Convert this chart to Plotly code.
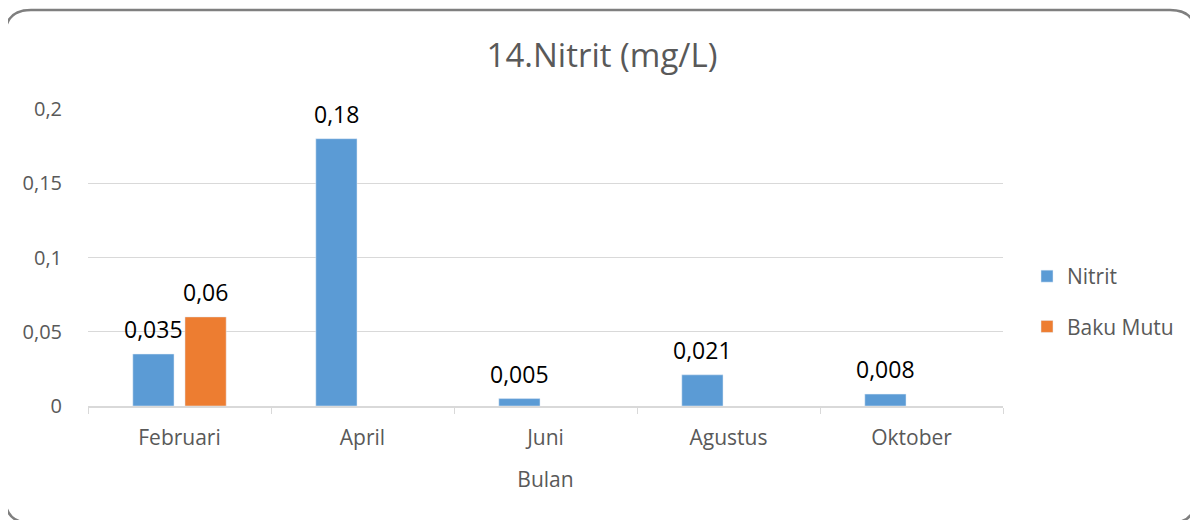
import plotly.graph_objects as go

categories = ["Februari", "April", "Juni", "Agustus", "Oktober"]
nitrit = [0.035, 0.18, 0.005, 0.021, 0.008]
baku_mutu = [0.06, None, None, None, None]
y_ticks = [0, 0.05, 0.1, 0.15, 0.2]
y_tick_labels = ["0", "0,05", "0,1", "0,15", "0,2"]

OFF = 8  # page body margin
W, H = 1198 - OFF, 520 - OFF
L, R, T, B = 88 - OFF, 195, 109 - OFF, 114
PW, PH = W - L - R, H - T - B

def px(x, y):
    # page pixel -> paper coords
    return (x - OFF - L) / PW, (H - B - (y - OFF)) / PH

FONT = "Open Sans"
GREY = "#595959"

fig = go.Figure()
fig.add_trace(go.Bar(x=categories, y=nitrit, name="Nitrit", marker_color="#5B9BD5",
                     legendgroup="a", hoverinfo="y"))
fig.add_trace(go.Bar(x=categories, y=baku_mutu, name="Baku Mutu", marker_color="#ED7D31",
                     legendgroup="b", hoverinfo="y"))

annotations = []
for series, shift in ((nitrit, -26), (baku_mutu, 26)):
    for c, v in zip(categories, series):
        if v is None:
            continue
        annotations.append(dict(x=c, y=v, xref="x", yref="y", xshift=shift, yshift=7,
                                text=f"{v:g}".replace(".", ","), showarrow=False,
                                yanchor="bottom", font=dict(family=FONT, size=23, color="#000000")))

# rounded border (bottom edge runs just below the visible page)
x0, y0 = px(5, 10)
x1, y1 = px(1196, 523)
rx, ry = 26 / PW, 26 / PH
path = (f"M{x0+rx},{y0} L{x1-rx},{y0} Q{x1},{y0} {x1},{y0-ry} "
        f"L{x1},{y1+ry} Q{x1},{y1} {x1-rx},{y1} L{x0+rx},{y1} Q{x0},{y1} {x0},{y1+ry} "
        f"L{x0},{y0-ry} Q{x0},{y0} {x0+rx},{y0} Z")

fig.update_layout(
    width=W, height=H,
    margin=dict(l=L, r=R, t=T, b=B),
    paper_bgcolor="white", plot_bgcolor="white",
    barmode="group", bargap=0.43, bargroupgap=0.21,
    separators=", ",
    title=dict(text="14.Nitrit (mg/L)", x=(602 - OFF) / W, xanchor="center",
               y=1 - (55 - OFF) / H, yanchor="middle",
               font=dict(family=FONT, size=33, color=GREY)),
    font=dict(family=FONT, color=GREY),
    showlegend=True,
    legend=dict(x=px(1027, 0)[0], y=px(0, 301.5)[1], xanchor="left", yanchor="middle",
                font=dict(family=FONT, size=21, color=GREY), tracegroupgap=20,
                bgcolor="rgba(0,0,0,0)"),
    xaxis=dict(type="category", showline=True, linecolor="#d9d9d9", linewidth=1.5,
               ticks="outside", tickson="boundaries", ticklen=6, tickcolor="#d9d9d9",
               tickfont=dict(family=FONT, size=21, color=GREY), ticklabelstandoff=12,
               title=dict(text="Bulan", font=dict(family=FONT, size=21, color=GREY), standoff=22),
               showgrid=False),
    yaxis=dict(range=[0, 0.2], tickvals=y_ticks, ticktext=y_tick_labels, showgrid=True,
               gridcolor="#d9d9d9", gridwidth=1, zeroline=False, showline=False,
               tickfont=dict(family=FONT, size=20, color=GREY), ticklabelstandoff=25),
    annotations=annotations,
    shapes=[dict(type="path", path=path, xref="paper", yref="paper",
                 line=dict(color="#7f7f7f", width=2.5), layer="above")],
)

fig.write_html("out.html")
